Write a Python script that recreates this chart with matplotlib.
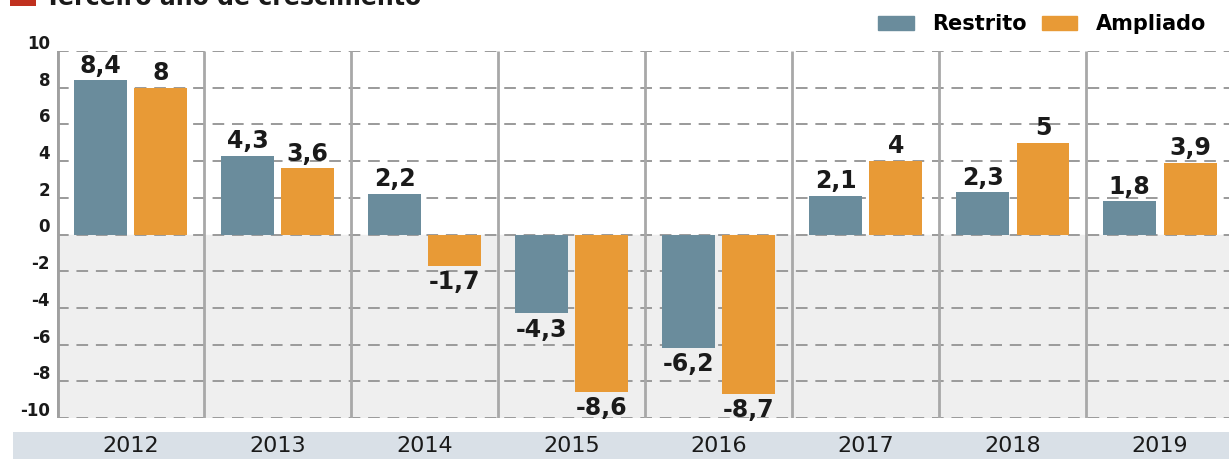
import numpy as np
import matplotlib
matplotlib.use('Agg')
import matplotlib.pyplot as plt
from matplotlib.patches import Rectangle, Patch

# data
anos = ['2012', '2013', '2014', '2015', '2016', '2017', '2018', '2019']
restrito = [8.4, 4.3, 2.2, -4.3, -6.2, 2.1, 2.3, 1.8]
ampliado = [8.0, 3.6, -1.7, -8.6, -8.7, 4.0, 5.0, 3.9]
rotulos_restrito = ['8,4', '4,3', '2,2', '-4,3', '-6,2', '2,1', '2,3', '1,8']
rotulos_ampliado = ['8', '3,6', '-1,7', '-8,6', '-8,7', '4', '5', '3,9']
yticks = [10, 8, 6, 4, 2, 0, -2, -4, -6, -8, -10]

cor_restrito = '#6a8c9c'
cor_ampliado = '#e89a36'
cor_grid = '#9a9a9a'

plt.rcParams['font.family'] = ['DejaVu Sans']

fig = plt.figure(figsize=(12.29, 4.59), dpi=100)
W, H = 1229, 459

# year band at the bottom
fig.patches.append(Rectangle((13 / W, 0), 1 - 13 / W, 27 / H, transform=fig.transFigure,
                             facecolor='#d9e0e7', edgecolor='none', zorder=0))

ax = fig.add_axes([57 / W, 1 - 418 / H, 1 - 57 / W, (418 - 51) / H])
x = np.arange(len(anos))
ax.set_xlim(-0.5, 7.47)
ax.set_ylim(-10, 10)

# light grey background for negative part
ax.axhspan(-10, 0, color='#efefef', zorder=0)

# dashed grid
for v in yticks:
    ax.axhline(v, color=cor_grid, lw=1.4, ls=(0, (6, 4)), zorder=1)

# group separators
for s in np.arange(0.5, 7.5, 1.0):
    ax.plot([s, s], [-10, 10], color='#a8a8a8', lw=2, zorder=1, solid_capstyle='butt')
ax.plot([-0.5, -0.5], [-10, 10], color='#a0a0a0', lw=3.5, zorder=3, solid_capstyle='butt')

w = 0.36
off = 0.205
b1 = ax.bar(x - off, restrito, w, color=cor_restrito, zorder=2)
b2 = ax.bar(x + off, ampliado, w, color=cor_ampliado, zorder=2)

for barras, vals, rots in [(b1, restrito, rotulos_restrito), (b2, ampliado, rotulos_ampliado)]:
    for b, v, r in zip(barras, vals, rots):
        cx = b.get_x() + b.get_width() / 2
        if v >= 0:
            ax.annotate(r, (cx, v), xytext=(0, 2), textcoords='offset points',
                        ha='center', va='bottom', fontsize=17, fontweight='bold', color='#1a1a1a')
        else:
            ax.annotate(r, (cx, v), xytext=(0, -3), textcoords='offset points',
                        ha='center', va='top', fontsize=17, fontweight='bold', color='#1a1a1a')

for sp in ax.spines.values():
    sp.set_visible(False)
ax.set_xticks([])
ax.set_yticks([])

# y labels, just above each grid line
for v in yticks:
    ax.annotate(str(v), (-0.5, v), xytext=(-5, 1.5), textcoords='offset points',
                ha='right', va='baseline', fontsize=12, fontweight='bold', color='#1a1a1a',
                annotation_clip=False)

# year labels in the band
for i, a in enumerate(anos):
    xf = (57 + (i + 0.5) * 147) / W
    fig.text(xf, 13 / H, a, ha='center', va='center', fontsize=16, color='#1a1a1a')

# title, cut at the top like the reference
fig.patches.append(Rectangle((10 / W, 1 - 6 / H), 26 / W, 30 / H, transform=fig.transFigure,
                             facecolor='#c0311f', edgecolor='none'))
fig.text(45 / W, 1 - 5 / H, 'Terceiro ano de crescimento', ha='left', va='baseline',
         fontsize=17, fontweight='bold', color='#1a1a1a')

# legend
handles = [Patch(color=cor_restrito, label='Restrito'), Patch(color=cor_ampliado, label='Ampliado')]
fig.legend(handles=handles, loc='upper right', bbox_to_anchor=(0.995, 1.005), ncol=2, frameon=False,
           prop={'weight': 'bold', 'size': 15}, handlelength=1.7, handleheight=0.7,
           handletextpad=0.9, columnspacing=0.7, borderaxespad=0.4)

fig.savefig('out.png', dpi=100)
